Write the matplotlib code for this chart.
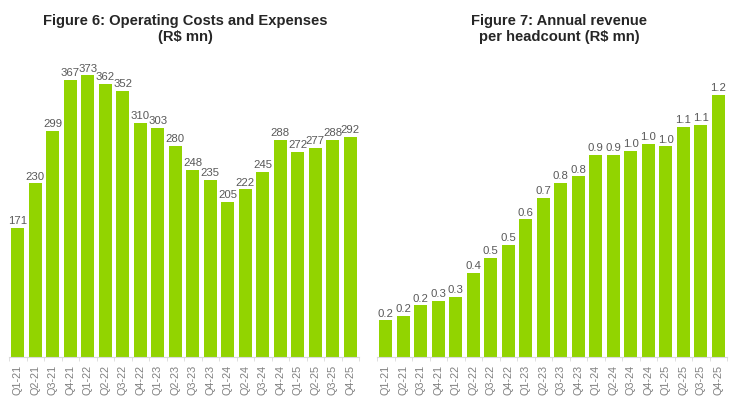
import numpy as np
import matplotlib
matplotlib.use('Agg')
import matplotlib.pyplot as plt

plt.rcParams['font.family'] = ['Liberation Sans', 'DejaVu Sans']

quarters = ['Q1-21', 'Q2-21', 'Q3-21', 'Q4-21', 'Q1-22', 'Q2-22', 'Q3-22', 'Q4-22',
            'Q1-23', 'Q2-23', 'Q3-23', 'Q4-23', 'Q1-24', 'Q2-24', 'Q3-24', 'Q4-24',
            'Q1-25', 'Q2-25', 'Q3-25', 'Q4-25']

# Figure 6 - operating costs and expenses (R$ mn)
opex = [171, 230, 299, 367, 373, 362, 352, 310, 303, 280,
        248, 235, 205, 222, 245, 288, 272, 277, 288, 292]

# Figure 7 - annual revenue per headcount (R$ mn)
rev_per_head = [0.17, 0.19, 0.24, 0.26, 0.28, 0.39, 0.46, 0.52, 0.64, 0.74,
                0.81, 0.84, 0.94, 0.94, 0.96, 0.99, 0.98, 1.07, 1.08, 1.22]

green = '#92D400'
label_gray = '#595959'
tick_gray = '#808080'
line_gray = '#D9D9D9'
title_color = '#262626'

fig = plt.figure(figsize=(7.34, 4.06), dpi=100)


def draw_panel(ax, values, ymax, fmt):
    x = np.arange(len(values))
    bars = ax.bar(x, values, width=0.74, color=green)
    for b, v in zip(bars, values):
        ax.annotate(fmt.format(v), (b.get_x() + b.get_width() / 2, v),
                    xytext=(0, 2), textcoords='offset points',
                    ha='center', va='bottom', fontsize=8.2, color=label_gray)
    ax.set_xlim(-0.5, len(values) - 0.5)
    ax.set_ylim(0, ymax)
    for s in ['top', 'right', 'left']:
        ax.spines[s].set_visible(False)
    ax.spines['bottom'].set_color(line_gray)
    ax.set_yticks([])
    ax.set_xticks(x)
    ax.set_xticklabels(quarters, rotation=90, fontsize=7.8, color=tick_gray)
    ax.tick_params(axis='x', which='major', length=0, pad=5)
    ax.set_xticks(np.arange(-0.5, len(values), 1), minor=True)
    ax.tick_params(axis='x', which='minor', length=3, color=line_gray)


h = 302 / 406
ax1 = fig.add_axes([9 / 734, 48 / 406, 350 / 734, h])
draw_panel(ax1, opex, 400, '{:.0f}')
ax2 = fig.add_axes([377 / 734, 48 / 406, 350 / 734, h])
draw_panel(ax2, rev_per_head, 302 / 215, '{:.1f}')

fig.text(185 / 734, 1 - 29 / 406, 'Figure 6: Operating Costs and Expenses\n(R$ mn)',
         ha='center', va='center', fontsize=10.6, fontweight='bold',
         color=title_color, linespacing=1.2)
fig.text(559 / 734, 1 - 29 / 406, 'Figure 7: Annual revenue\nper headcount (R$ mn)',
         ha='center', va='center', fontsize=10.6, fontweight='bold',
         color=title_color, linespacing=1.2)

plt.savefig('out.png', dpi=100)
